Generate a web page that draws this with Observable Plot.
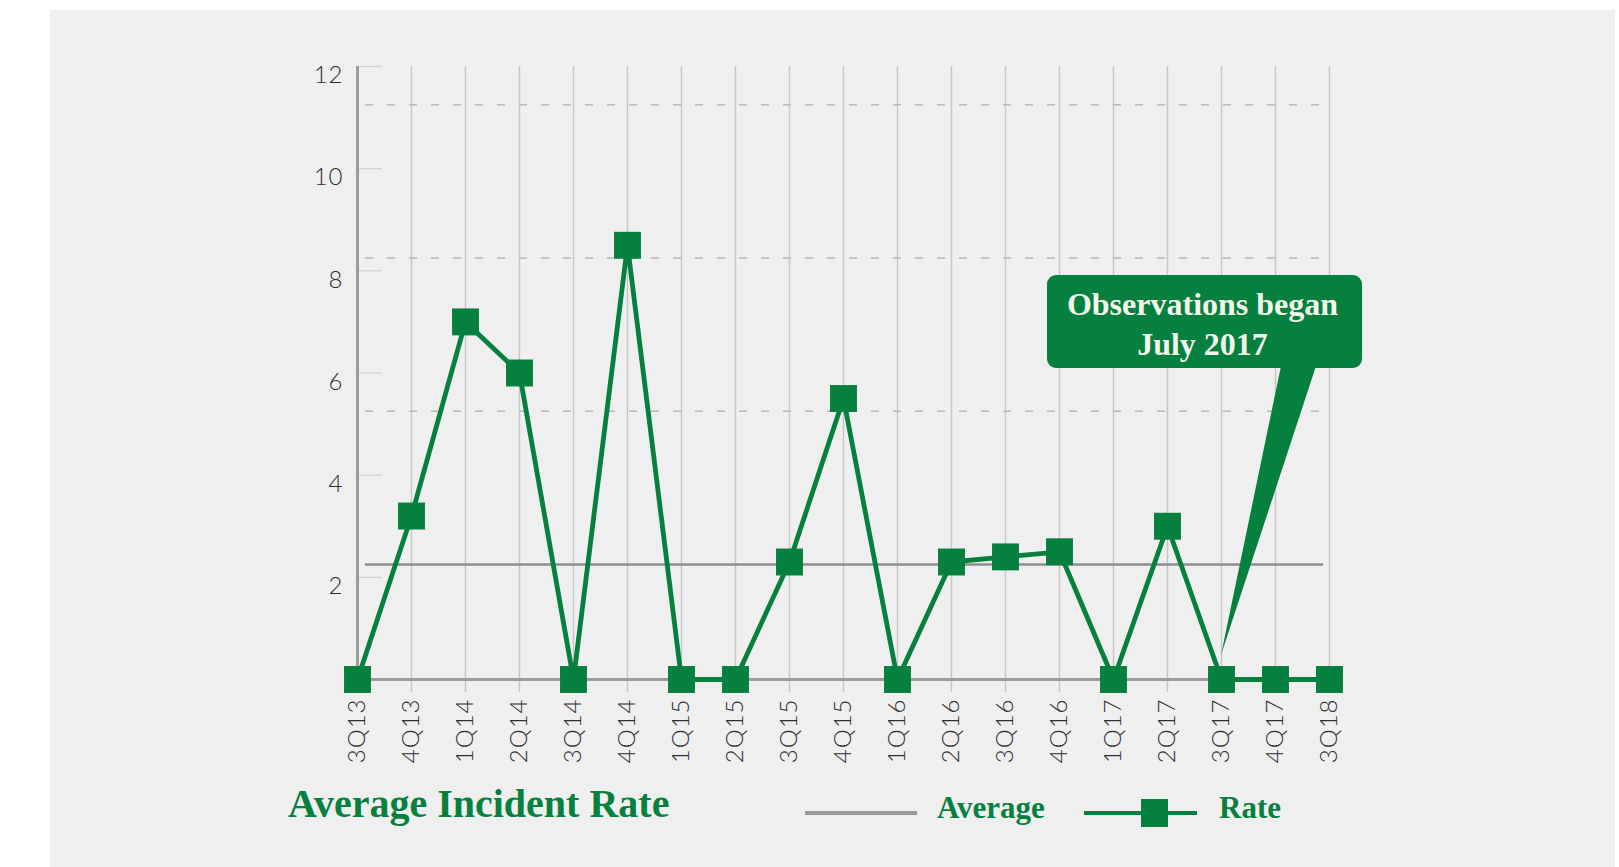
<!DOCTYPE html>
<html>
<head>
<meta charset="utf-8">
<script src="https://cdn.jsdelivr.net/npm/d3@7"></script>
<script src="https://cdn.jsdelivr.net/npm/@observablehq/plot@0.6"></script>
<style>
  html, body { margin: 0; padding: 0; background: #ffffff; width: 1619px; height: 867px; overflow: hidden; }
  #panel { position: absolute; left: 50px; top: 10px; width: 1565px; height: 857px; background: #efefef; }
  #chart { position: absolute; left: 0; top: 0; }
  #legend { position: absolute; left: 0; top: 770px; width: 1619px; height: 97px; }
  #legend svg { display: block; }
</style>
</head>
<body>
<div id="panel"></div>
<div id="chart"></div>
<div id="legend"></div>
<script>
// ---- data ----
const categories = ["3Q13","4Q13","1Q14","2Q14","3Q14","4Q14","1Q15","2Q15","3Q15","4Q15","1Q16","2Q16","3Q16","4Q16","1Q17","2Q17","3Q17","4Q17","3Q18"];
const rates = [0, 3.2, 7.0, 6.0, 0, 8.5, 0, 0, 2.3, 5.5, 0, 2.3, 2.4, 2.5, 0, 3.0, 0, 0, 0];
const yTicks = [2, 4, 6, 8, 10, 12];
const averageRate = 2.25;
const dashedLevels = [5.25, 8.25, 11.25];
const calloutQuarter = "3Q17";
const calloutLines = ["Observations began", "July 2017"];
const titleText = "Average Incident Rate";
const legendLabels = ["Average", "Rate"];

const GREEN = "#05803e";
const data = categories.map((q, i) => ({quarter: q, rate: rates[i]}));

const chart = Plot.plot({
  width: 1619,
  height: 770,
  marginLeft: 355,
  marginRight: 289,
  marginTop: 66,
  marginBottom: 91,
  style: {background: "transparent", fontFamily: "Lato, 'Noto Sans', sans-serif", fontSize: "24px", overflow: "visible"},
  x: {type: "point", domain: categories, padding: 0, axis: null},
  y: {domain: [0, 12], axis: null},
  marks: [
    Plot.ruleX(categories.slice(1), {y1: 12, y2: 0, insetBottom: -13, stroke: "#c6c6c6", strokeWidth: 1.4}),
    Plot.ruleY(yTicks, {x1: () => categories[0], x2: () => categories[0], insetRight: -25, stroke: "#d0d0d0", strokeWidth: 1.2}),
    Plot.ruleY(dashedLevels, {insetLeft: 10, insetRight: 7, stroke: "#b8b8b8", strokeWidth: 1.6, strokeDasharray: "8,14"}),
    Plot.ruleY([averageRate], {insetLeft: 10, insetRight: 7, stroke: "#8e8e8e", strokeWidth: 2.5}),
    Plot.ruleY([0], {stroke: "#9c9c9c", strokeWidth: 3}),
    Plot.ruleX([categories[0]], {y1: 12, y2: 0, stroke: "#9c9c9c", strokeWidth: 3}),
    Plot.line(data, {x: "quarter", y: "rate", stroke: GREEN, strokeWidth: 4.8}),
    Plot.dot(data, {x: "quarter", y: "rate", symbol: "square", r: 15.2, fill: GREEN, stroke: "none"}),
    Plot.text(yTicks, {x: () => categories[0], y: d => d, text: d => String(d), textAnchor: "end", dx: -14, dy: 9, fill: "#2e2e2e", fontSize: 24, fontWeight: 300}),
    Plot.text(categories, {x: d => d, y: () => 0, text: d => d, rotate: -90, textAnchor: "end", dy: 19, fill: "#2e2e2e", fontSize: 24, fontWeight: 300})
  ]
});
chart.querySelectorAll("text").forEach(t => t.setAttribute("letter-spacing", "1"));
document.getElementById("chart").appendChild(chart);

// ---- callout anchored to the 3Q17 point ----
const xs = chart.scale("x"), ys = chart.scale("y");
const tipX = xs.apply(calloutQuarter);
const tipY = ys.apply(0) - 24;
const boxL = tipX - 174, boxR = tipX + 141, boxT = 275, boxB = 368;
const svg = d3.select(chart);
const g = svg.append("g");
g.append("rect").attr("x", boxL).attr("y", boxT).attr("width", boxR - boxL).attr("height", boxB - boxT)
  .attr("rx", 9).attr("fill", GREEN);
g.append("path").attr("d", `M${tipX + 60},${boxB - 2}L${tipX + 95},${boxB - 2}L${tipX},${tipY}Z`).attr("fill", GREEN);
g.selectAll("text.c").data(calloutLines).join("text")
  .attr("x", (boxL + boxR) / 2 - 2)
  .attr("y", (d, i) => 315 + i * 40)
  .attr("text-anchor", "middle")
  .attr("font-family", "'Liberation Serif', serif")
  .attr("font-weight", "bold")
  .attr("font-size", 32)
  .attr("fill", "#f3f6ea")
  .text(d => d);

// ---- title & legend below the chart ----
const leg = d3.select("#legend").append("svg").attr("width", 1619).attr("height", 97);
leg.append("text").attr("x", 288).attr("y", 47).attr("font-family", "'Liberation Serif', serif")
  .attr("font-weight", "bold").attr("font-size", 40).attr("fill", GREEN).text(titleText);
leg.append("line").attr("x1", 805).attr("x2", 917).attr("y1", 43).attr("y2", 43)
  .attr("stroke", "#999999").attr("stroke-width", 4);
leg.append("text").attr("x", 937).attr("y", 48).attr("font-family", "'Liberation Serif', serif")
  .attr("font-weight", "bold").attr("font-size", 31).attr("fill", GREEN).text(legendLabels[0]);
leg.append("line").attr("x1", 1084).attr("x2", 1197).attr("y1", 43).attr("y2", 43)
  .attr("stroke", GREEN).attr("stroke-width", 4);
leg.append("rect").attr("x", 1141).attr("y", 29).attr("width", 27).attr("height", 28).attr("fill", GREEN);
leg.append("text").attr("x", 1219).attr("y", 48).attr("font-family", "'Liberation Serif', serif")
  .attr("font-weight", "bold").attr("font-size", 31).attr("fill", GREEN).text(legendLabels[1]);
</script>
</body>
</html>
